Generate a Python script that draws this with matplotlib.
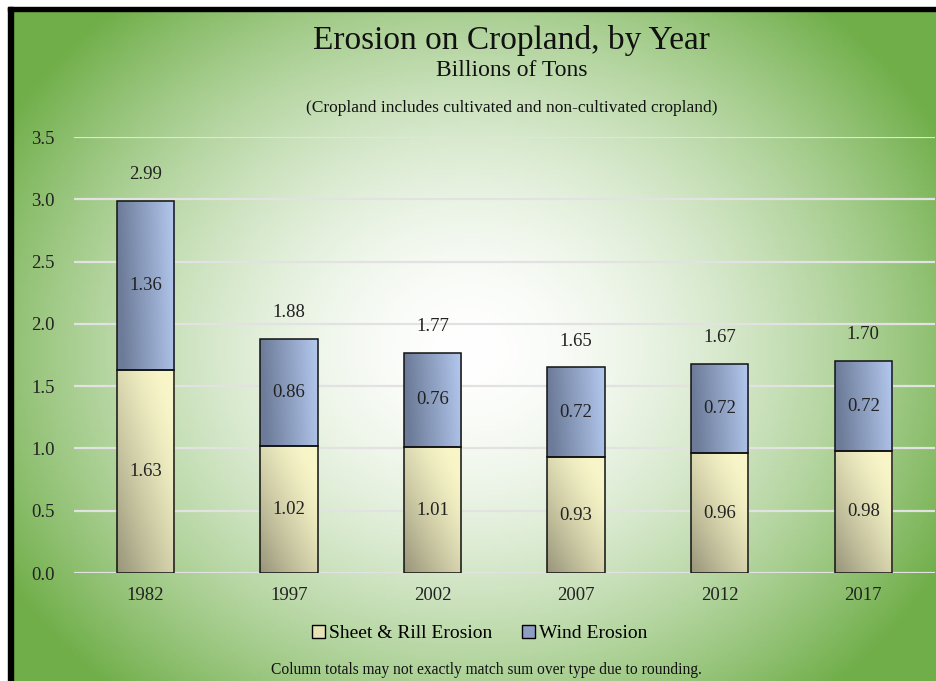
import numpy as np
import matplotlib
matplotlib.use("Agg")
import matplotlib.pyplot as plt
from matplotlib.patches import Patch, Rectangle
from matplotlib.colors import to_rgb

# Data
years = ["1982", "1997", "2002", "2007", "2012", "2017"]
sheet_rill = [1.63, 1.02, 1.01, 0.93, 0.96, 0.98]
wind = [1.36, 0.86, 0.76, 0.72, 0.72, 0.72]
totals = [2.99, 1.88, 1.77, 1.65, 1.67, 1.70]

plt.rcParams["font.family"] = ["Liberation Serif", "DejaVu Serif"]

W, H = 937, 681
fig = plt.figure(figsize=(W / 100, H / 100), dpi=100, facecolor="white")

# radial green background
bg = fig.add_axes([13 / W, 0, 1 - 13 / W, 1 - 11 / H], zorder=-10)
xx, yy = np.meshgrid(np.linspace(13, W, 300), np.linspace(11, H, 220))
r = np.sqrt(((xx - 470) / 540) ** 2 + ((yy - 350) / 460) ** 2)
t = np.clip(r, 0, 1) ** 1.7
green = np.array(to_rgb("#6fae48"))
img = (1 - t)[..., None] * np.ones(3) + t[..., None] * green
bg.imshow(img, aspect="auto", extent=(0, 1, 0, 1), origin="upper")
bg.set_axis_off()

# black frame lines on top and left
fig.patches.append(Rectangle((8 / W, 0), 5 / W, 1 - 7 / H, transform=fig.transFigure,
                             color="black", zorder=5))
fig.patches.append(Rectangle((8 / W, 1 - 11 / H), 1, 4 / H, transform=fig.transFigure,
                             color="black", zorder=5))

ax = fig.add_axes([73.75 / W, 1 - 573 / H, (935 - 73.75) / W, (573 - 137) / H])
ax.patch.set_alpha(0)

x = np.arange(len(years))
bw = 0.4


def gradient_fill(bar, c_dark, c_light, kind):
    x0, y0 = bar.get_x(), bar.get_y()
    w, h = bar.get_width(), bar.get_height()
    u, v = np.meshgrid(np.linspace(0, 1, 60), np.linspace(1, 0, 60))
    if kind == "yellow":
        d = np.clip(0.55 * (1 - u) + 0.6 * (1 - v) - 0.15, 0, 1) ** 1.3
    else:
        d = np.clip(1 - u + 0.1 * (1 - v), 0, 1)
    cd, cl = np.array(to_rgb(c_dark)), np.array(to_rgb(c_light))
    grad = d[..., None] * cd + (1 - d)[..., None] * cl
    im = ax.imshow(grad, extent=(x0, x0 + w, y0, y0 + h), aspect="auto",
                   zorder=2, origin="upper")
    im.set_clip_path(bar)


b1 = ax.bar(x, sheet_rill, bw, facecolor="none", edgecolor="#111111", lw=1.1, zorder=3)
b2 = ax.bar(x, wind, bw, bottom=sheet_rill, facecolor="none", edgecolor="#111111",
            lw=1.1, zorder=3)
for bar in b1:
    gradient_fill(bar, "#98957a", "#f8f6c8", "yellow")
for bar in b2:
    gradient_fill(bar, "#6c7b98", "#b4c9ef", "blue")

for i in range(len(years)):
    ax.text(x[i], sheet_rill[i] / 2, f"{sheet_rill[i]:.2f}", ha="center", va="center",
            fontsize=13.5, color="#222222", zorder=4)
    ax.text(x[i], sheet_rill[i] + wind[i] / 2, f"{wind[i]:.2f}", ha="center",
            va="center", fontsize=13.5, color="#222222", zorder=4)
    ax.annotate(f"{totals[i]:.2f}", (x[i], sheet_rill[i] + wind[i]), xytext=(0, 19),
                textcoords="offset points", ha="center", va="center", fontsize=13.5,
                color="#222222")

ax.set_xlim(-0.5, len(years) - 0.5)
ax.set_ylim(0, 3.5)
ax.set_yticks(np.arange(0, 3.51, 0.5))
ax.set_yticklabels([f"{v:.1f}" for v in np.arange(0, 3.51, 0.5)])
ax.set_xticks(x)
ax.set_xticklabels(years)
ax.tick_params(axis="both", length=0, labelsize=13.5, colors="#222222")
ax.tick_params(axis="x", pad=10)
ax.tick_params(axis="y", pad=13.5)
ax.yaxis.grid(True, color="#e2e2e2", lw=1.6, zorder=0)
ax.set_axisbelow(True)
for s in ax.spines.values():
    s.set_visible(False)

fig.text(0.546, 0.94, "Erosion on Cropland, by Year", ha="center", va="center",
         fontsize=24, color="#111111")
fig.text(0.546, 0.896, "Billions of Tons", ha="center", va="center", fontsize=17,
         color="#111111")
fig.text(0.546, 0.841, "(Cropland includes cultivated and non-cultivated cropland)",
         ha="center", va="center", fontsize=12.5, color="#111111")

handles = [Patch(facecolor="#e6e3b4", edgecolor="black", label="Sheet & Rill Erosion"),
           Patch(facecolor="#8e9fc4", edgecolor="black", label="Wind Erosion")]
fig.legend(handles=handles, loc="center", bbox_to_anchor=(0.512, 0.07), ncol=2,
           frameon=False, fontsize=14, handlelength=0.7, handleheight=0.7,
           handletextpad=0.2, columnspacing=1.5)

fig.text(0.519, 0.016, "Column totals may not exactly match sum over type due to rounding.",
         ha="center", va="center", fontsize=11.2, color="#111111")

fig.savefig("out.png", dpi=100, facecolor=fig.get_facecolor())
